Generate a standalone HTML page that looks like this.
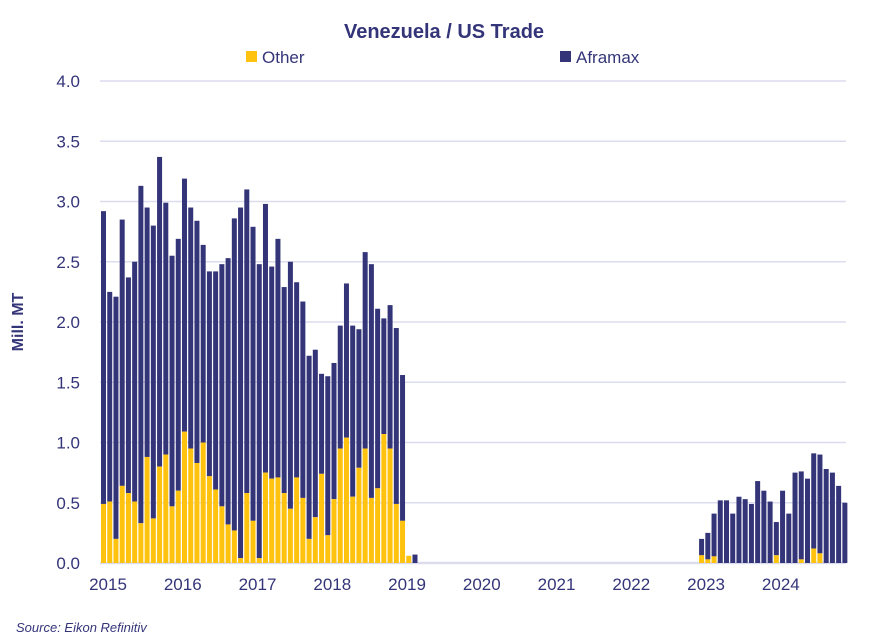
<!DOCTYPE html>
<html><head><meta charset="utf-8"><style>
body{margin:0;background:#fff;font-family:"Liberation Sans",sans-serif;}
svg text{font-family:"Liberation Sans",sans-serif;}
</style></head><body>
<svg id="chart" width="888" height="639">
<text x="444" y="38" text-anchor="middle" font-size="20" font-weight="bold" fill="#343579">Venezuela / US Trade</text>
<g>
<rect x="246" y="51" width="11" height="11" fill="#FFC20E"></rect>
<text x="262" y="63" font-size="17" fill="#343579">Other</text>
<rect x="560" y="51" width="11" height="11" fill="#343579"></rect>
<text x="576" y="63" font-size="17" fill="#343579">Aframax</text>
</g>
<text transform="translate(23,322) rotate(-90)" text-anchor="middle" font-size="16" font-weight="bold" fill="#343579">Mill. MT</text>
<g id="grid"></g><g id="bars"></g><g id="xlabels"></g>
<text x="16" y="632" font-size="13" font-style="italic" fill="#343579">Source: Eikon Refinitiv</text>
</svg>
<script>
const totals1=[2.92,2.25,2.21,2.85,2.37,2.50,3.13,2.95,2.80,3.37,2.99,2.55,2.69,3.19,2.95,2.84,2.64,2.42,2.42,2.48,2.53,2.86,2.95,3.10,2.79,2.48,2.98,2.46,2.69,2.29,2.50,2.33,2.17,1.72,1.77,1.57,1.55,1.66,1.97,2.32,1.97,1.94,2.58,2.48,2.11,2.03,2.14,1.95,1.56,0.06,0.07];
const other1=[0.49,0.51,0.20,0.64,0.58,0.51,0.33,0.88,0.37,0.80,0.90,0.47,0.60,1.09,0.95,0.83,1.00,0.72,0.61,0.47,0.32,0.27,0.04,0.58,0.35,0.04,0.75,0.70,0.71,0.58,0.45,0.71,0.54,0.20,0.38,0.74,0.23,0.53,0.95,1.04,0.55,0.79,0.95,0.54,0.62,1.07,0.95,0.49,0.35,0.06,0];
const totals2=[0.20,0.25,0.41,0.52,0.52,0.41,0.55,0.53,0.49,0.68,0.60,0.51,0.34,0.60,0.41,0.75,0.76,0.70,0.91,0.90,0.78,0.75,0.64,0.50];
const other2=[0.064,0.03,0.055,0,0,0,0,0,0,0,0,0,0.064,0,0,0,0.03,0,0.12,0.08,0,0,0,0];
const start2=96;
const yTicks=["0.0","0.5","1.0","1.5","2.0","2.5","3.0","3.5","4.0"];
const years=["2015","2016","2017","2018","2019","2020","2021","2022","2023","2024"];
const NS="http://www.w3.org/2000/svg";
const y=v=>563-v*120.5;
const x=m=>101+m*6.23;
function mk(t,a,p){const e=document.createElementNS(NS,t);for(const k in a)e.setAttribute(k,a[k]);p.appendChild(e);return e;}
const grid=document.getElementById('grid');
yTicks.forEach(t=>{const v=parseFloat(t);
 const l=mk('line',{x1:100,x2:846,y1:y(v),y2:y(v),stroke:'#dcdcef','stroke-width':v===0?2.5:1.5},grid);
 
 
 const tx=mk('text',{x:80,y:y(v)+6,'text-anchor':'end','font-size':17,fill:'#343579'},grid);tx.textContent=t;
 
 
});
const bars=document.getElementById('bars');
function draw(tot,oth,off){tot.forEach((t,i)=>{const m=off+i,o=oth[i];
 const a=mk('rect',{x:x(m),width:5,y:y(t),height:Math.max(0,y(o)-y(t)),fill:'#343579'},bars);
 
 
 if(o>0){const b=mk('rect',{x:x(m),width:5,y:y(o),height:y(0)-y(o),fill:'#FFC20E'},bars);
 
 }
});}
draw(totals1,other1,0);draw(totals2,other2,start2);
const xl=document.getElementById('xlabels');
years.forEach((yr,i)=>{const t=mk('text',{x:x(i*12)+7,y:590,'text-anchor':'middle','font-size':17,fill:'#343579'},xl);t.textContent=yr;
 
 });
</script>
</body></html>
